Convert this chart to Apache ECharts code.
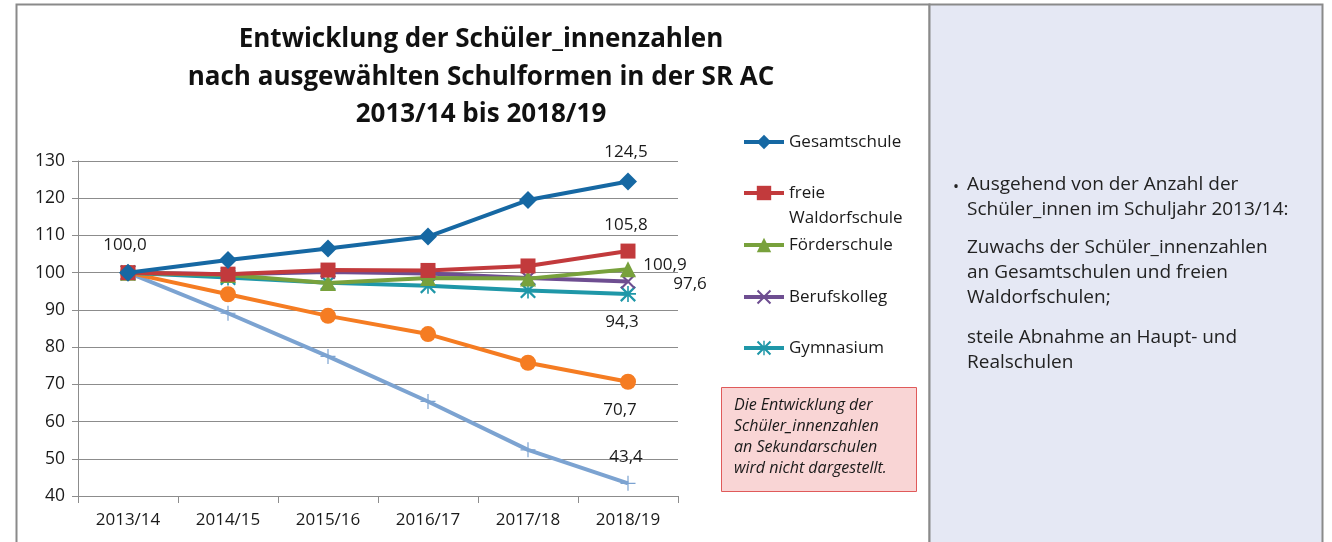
<!DOCTYPE html>
<html>
<head>
<meta charset="utf-8">
<script src="https://cdn.jsdelivr.net/npm/echarts@6/dist/echarts.min.js"></script>
<style>
  html, body { margin: 0; padding: 0; background: #fff; }
  #chart { width: 1332px; height: 542px; }
</style>
</head>
<body>
<div id="chart"></div>
<script>
// Daten (Index 2013/14 = 100)
const categories = ['2013/14', '2014/15', '2015/16', '2016/17', '2017/18', '2018/19'];
const yTicks = { min: 40, max: 130, interval: 10 };

const gesamtschule = [100, 103.4, 106.5, 109.7, 119.5, 124.5];
const waldorfschule = [100, 99.6, 100.7, 100.6, 101.8, 105.8];
const foerderschule = [100, 99.4, 97.2, 98.6, 98.4, 100.9];
const berufskolleg = [100, 99.6, 100.2, 99.8, 98.6, 97.6];
const gymnasium = [100, 98.7, 97.3, 96.5, 95.2, 94.3];
const realschule = [100, 94.2, 88.4, 83.5, 75.8, 70.7];
const hauptschule = [100, 89.1, 77.5, 65.4, 52.4, 43.4];

const legendNames = ['Gesamtschule', 'freie Waldorfschule', 'Förderschule', 'Berufskolleg', 'Gymnasium'];

const FONT = '"Open Sans"';
const fmt = v => v.toFixed(1).replace('.', ',');

// Symbole
const SYM_X = 'path://M0,1L1,0L5,4L9,0L10,1L6,5L10,9L9,10L5,6L1,10L0,9L4,5Z';
const SYM_STAR = 'path://M0,1L1,0L5,4L9,0L10,1L6,5L10,9L9,10L5,6L1,10L0,9L4,5Z M4.5,0H5.5V4.5H10V5.5H5.5V10H4.5V5.5H0V4.5H4.5Z';
const SYM_PLUS = 'path://M4.6,0H5.4V4.6H10V5.4H5.4V10H4.6V5.4H0V4.6H4.6Z';

// Datenbeschriftung nur an einzelnen Punkten
function withLabels(values, labels) {
  return values.map((v, i) => {
    if (!labels[i]) return v;
    return {
      value: v,
      label: {
        show: true, position: 'inside', offset: labels[i],
        formatter: p => fmt(p.value),
        color: '#1a1a1a', fontSize: 17, fontFamily: FONT
      }
    };
  });
}

function lineSeries(name, data, color, symbol, size, labels, z) {
  return {
    name: name,
    type: 'line',
    data: withLabels(data, labels || []),
    symbol: symbol,
    symbolSize: size,
    showAllSymbol: true,
    lineStyle: { color: color, width: 4 },
    itemStyle: { color: color },
    emphasis: { disabled: true },
    z: z || 2,
    animation: false
  };
}

const last = categories.length - 1;
const lbl = (idx, off) => { const a = []; a[idx] = off; return a; };

const chart = echarts.init(document.getElementById('chart'));

// Mittelpunkt des Symbols je Legendeneintrag
const legendCenters = [142, 193, 245, 297, 348];
const legends = legendNames.map((n, i) => {
  const twoLine = n === 'freie Waldorfschule';
  return {
    data: [n],
    left: 742,
    top: legendCenters[i] - (twoLine ? 37.5 : 12.5),
    padding: 0,
    orient: 'vertical',
    itemWidth: 40,
    itemHeight: 18,
    itemGap: 0,
    selectedMode: false,
    lineStyle: { width: 4 },
    formatter: twoLine ? '\nfreie\nWaldorfschule' : '{name}',
    textStyle: { fontFamily: FONT, fontSize: 17, color: '#1a1a1a', lineHeight: 25 }
  };
});

const option = {
  backgroundColor: '#fff',
  animation: false,
  title: {
    text: 'Entwicklung der Schüler_innenzahlen\nnach ausgewählten Schulformen in der SR AC\n2013/14 bis 2018/19',
    left: 476,
    top: 16,
    textAlign: 'center',
    textStyle: { fontFamily: FONT, fontWeight: 'bold', fontSize: 26, lineHeight: 37.5, color: '#111' }
  },
  legend: legends,
  grid: { left: 78, right: 654, top: 161, bottom: 46 },
  xAxis: {
    type: 'category',
    data: categories,
    boundaryGap: true,
    axisLine: { lineStyle: { color: '#8c8c8c', width: 1 } },
    axisTick: { show: true, length: 7, lineStyle: { color: '#8c8c8c' } },
    axisLabel: { color: '#1a1a1a', fontFamily: FONT, fontSize: 17, margin: 16 }
  },
  yAxis: {
    type: 'value',
    min: yTicks.min,
    max: yTicks.max,
    interval: yTicks.interval,
    axisLine: { show: true, lineStyle: { color: '#8c8c8c', width: 1 } },
    axisTick: { show: true, length: 6, lineStyle: { color: '#8c8c8c' } },
    axisLabel: { color: '#1a1a1a', fontFamily: FONT, fontSize: 17.5, margin: 13 },
    splitLine: { lineStyle: { color: '#8c8c8c', width: 1 } }
  },
  series: [
    lineSeries('Hauptschule', hauptschule, '#7ca3d1', SYM_PLUS, 15, lbl(last, [-2, -26]), 2),
    lineSeries('Realschule', realschule, '#f57c22', 'circle', 16, lbl(last, [-8, 28]), 3),
    lineSeries('Gymnasium', gymnasium, '#1f97a8', SYM_STAR, 16, lbl(last, [-6, 28]), 4),
    lineSeries('Berufskolleg', berufskolleg, '#6e4e91', SYM_X, 15, lbl(last, [62, 3]), 5),
    lineSeries('Förderschule', foerderschule, '#78a13c', 'triangle', 16, lbl(last, [37, -4]), 6),
    lineSeries('freie Waldorfschule', waldorfschule, '#c23a3c', 'rect', 15, lbl(last, [-2, -26]), 7),
    lineSeries('Gesamtschule', gesamtschule, '#1668a3', 'diamond', 18, Object.assign(lbl(last, [-2, -29]), { 0: [-3, -28] }), 8)
  ],
  graphic: [
    // Rahmen des Diagramms
    { type: 'rect', z: -10, shape: { x: 16.5, y: 4.5, width: 913, height: 600 },
      style: { fill: 'none', stroke: '#8a8a8a', lineWidth: 2 } },
    // rechtes Textfeld
    { type: 'rect', z: -10, shape: { x: 929.5, y: 4.5, width: 393, height: 600 },
      style: { fill: '#e5e8f4', stroke: '#8a8a8a', lineWidth: 2 } },
    { type: 'text', left: 953, top: 179,
      style: { text: '•', fill: '#222', font: '16px "Open Sans"' } },
    { type: 'text', left: 967, top: 172,
      style: { text: 'Ausgehend von der Anzahl der\nSchüler_innen im Schuljahr 2013/14:', fill: '#222',
               font: '19px "Open Sans"', lineHeight: 25 } },
    { type: 'text', left: 967, top: 235,
      style: { text: 'Zuwachs der Schüler_innenzahlen\nan Gesamtschulen und freien\nWaldorfschulen;', fill: '#222',
               font: '19px "Open Sans"', lineHeight: 25 } },
    { type: 'text', left: 967, top: 325,
      style: { text: 'steile Abnahme an Haupt- und\nRealschulen', fill: '#222',
               font: '19px "Open Sans"', lineHeight: 25 } },
    // Hinweis-Kasten
    { type: 'rect', shape: { x: 721.5, y: 387.5, width: 195, height: 104 },
      style: { fill: '#f9d5d5', stroke: '#e05a5a', lineWidth: 1 } },
    { type: 'text', left: 734, top: 395,
      style: { text: 'Die Entwicklung der\nSchüler_innenzahlen\nan Sekundarschulen\nwird nicht dargestellt.', fill: '#1a1a1a',
               font: 'italic 16px ' + FONT, lineHeight: 21 } }
  ]
};

chart.setOption(option);
</script>
</body>
</html>
